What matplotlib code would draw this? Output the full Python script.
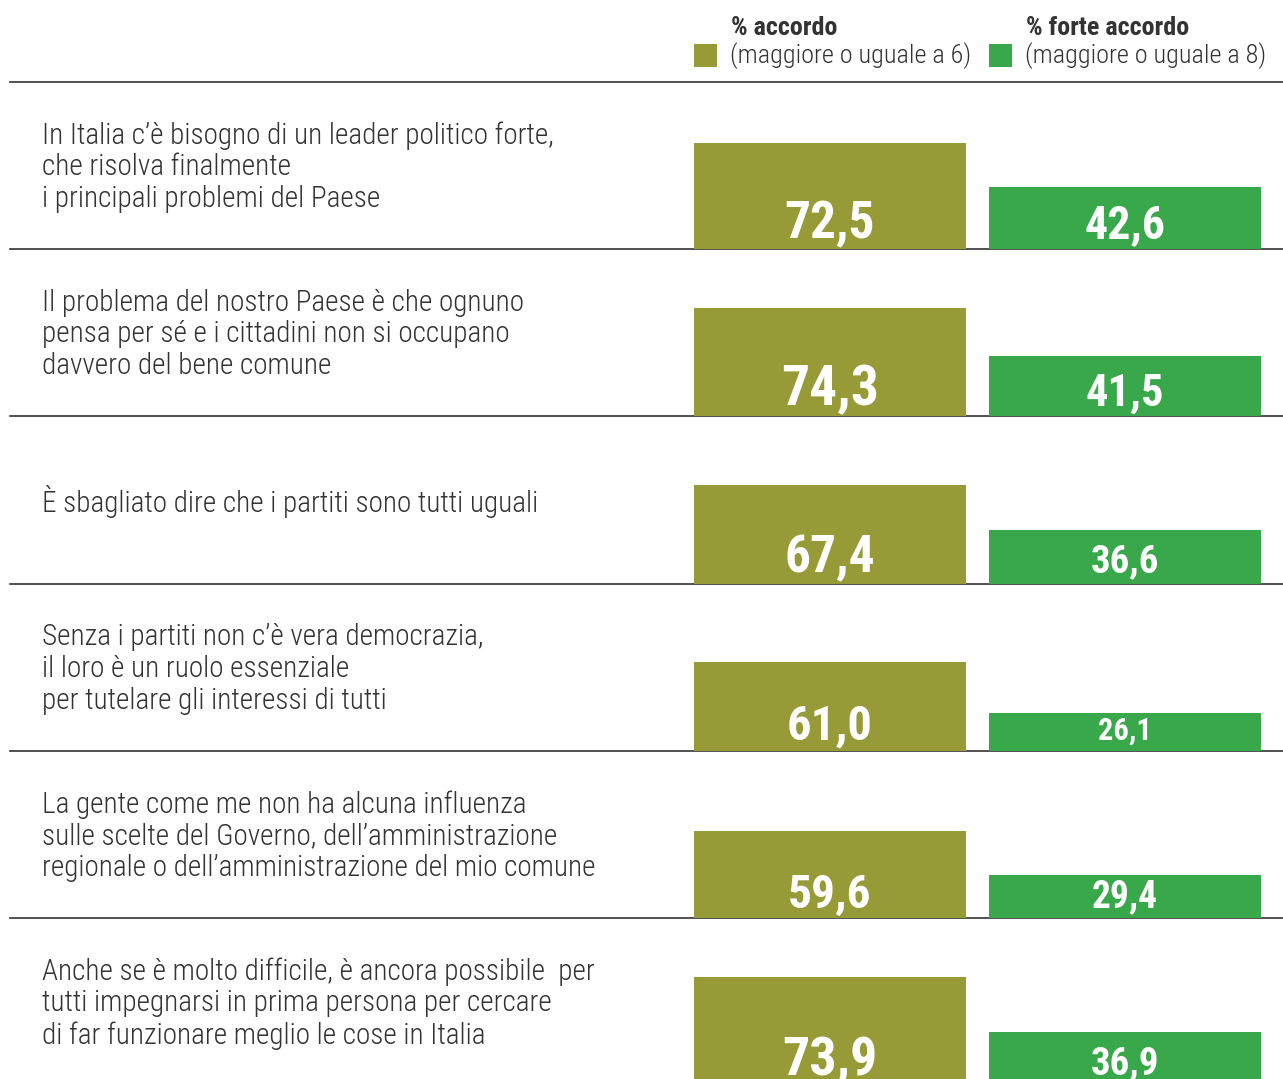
import matplotlib
matplotlib.use("Agg")
import matplotlib.pyplot as plt
from matplotlib.patches import Rectangle

statements = [
    "In Italia c\u2019\u00e8 bisogno di un leader politico forte,\nche risolva finalmente\ni principali problemi del Paese",
    "Il problema del nostro Paese \u00e8 che ognuno\npensa per s\u00e9 e i cittadini non si occupano\ndavvero del bene comune",
    "\u00c8 sbagliato dire che i partiti sono tutti uguali",
    "Senza i partiti non c\u2019\u00e8 vera democrazia,\nil loro \u00e8 un ruolo essenziale\nper tutelare gli interessi di tutti",
    "La gente come me non ha alcuna influenza\nsulle scelte del Governo, dell\u2019amministrazione\nregionale o dell\u2019amministrazione del mio comune",
    "Anche se \u00e8 molto difficile, \u00e8 ancora possibile  per\ntutti impegnarsi in prima persona per cercare\ndi far funzionare meglio le cose in Italia",
]
accordo = [72.5, 74.3, 67.4, 61.0, 59.6, 73.9]
forte_accordo = [42.6, 41.5, 36.6, 26.1, 29.4, 36.9]
series_titles = ["% accordo", "% forte accordo"]
series_notes = ["(maggiore o uguale a 6)", "(maggiore o uguale a 8)"]

OLIVE = "#969b37"
GREEN = "#39a84a"
INK = "#333333"
COND = ["Roboto Condensed", "Liberation Sans Narrow", "Roboto", "DejaVu Sans"]

# layout in pixels (figure is 1283 x 1079, y measured from top)
W, H = 1283, 1079
px_per_unit = 1.463
first_base = 249
pitch = 167.3
bar_w = 272
bar_x = [694, 989]
# label sizes as they appear on the chart
size_acc = [37, 40, 37, 35, 34, 39]
size_forte = [33, 32, 28, 22, 27, 28]

fig = plt.figure(figsize=(W / 100, H / 100), dpi=100)
ax = fig.add_axes([0, 0, 1, 1])
ax.set_xlim(0, W)
ax.set_ylim(H, 0)
ax.axis("off")

# header
ax.plot([10, W], [82, 82], color=INK, lw=1.2)
for k, col in enumerate([OLIVE, GREEN]):
    x0 = bar_x[k]
    ax.add_patch(Rectangle((x0, 44), 23, 23, color=col, lw=0))
    ax.text(x0 + 37, 28, series_titles[k], fontsize=18.8, family=COND, weight="bold",
            color=INK, va="center", ha="left")
    ax.text(x0 + 36, 56, series_notes[k], fontsize=18.9, family=COND, weight="light",
            color=INK, va="center", ha="left")

for i, label in enumerate(statements):
    base = first_base + i * pitch
    ax.plot([10, W], [base, base], color=INK, lw=1.2, zorder=1)
    ax.text(42, base - 82, label, fontsize=21.1, family=COND, weight="light",
            color=INK, va="center", ha="left", linespacing=1.17)
    for k, (vals, sizes, col) in enumerate([(accordo, size_acc, OLIVE),
                                             (forte_accordo, size_forte, GREEN)]):
        v = vals[i]
        cx = bar_x[k] + bar_w / 2
        ax.bar(cx, -v * px_per_unit, bottom=base, width=bar_w, color=col, lw=0, zorder=2)
        ax.text(cx, base - 11, f"{v:.1f}".replace(".", ","), fontsize=sizes[i],
                family=COND, weight="bold", color="white", ha="center", va="baseline",
                zorder=3)

fig.savefig("out.png", dpi=100)
